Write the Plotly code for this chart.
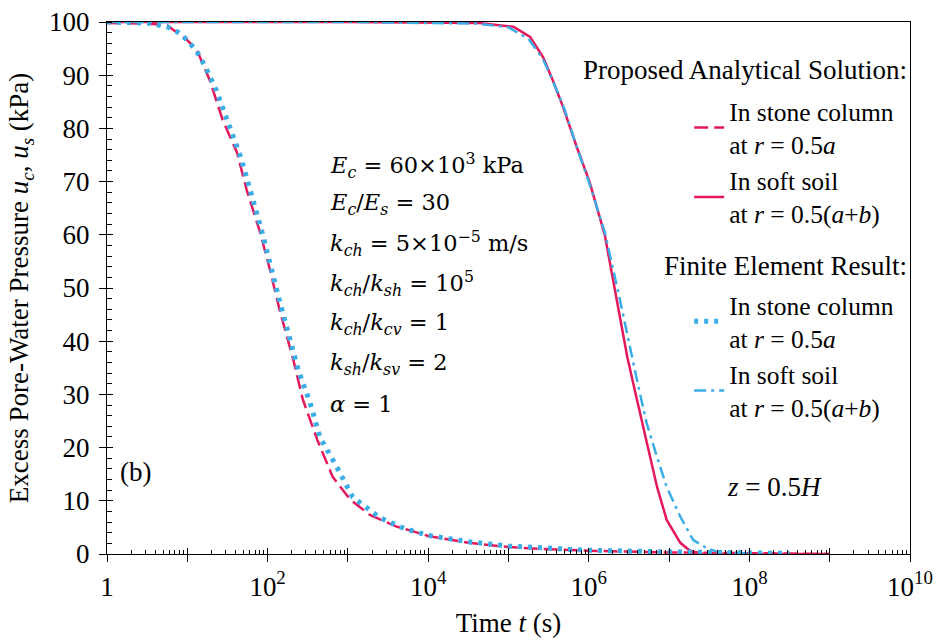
import plotly.graph_objects as go

# ---------------- data ----------------
# Proposed analytical solution, in stone column at r = 0.5a (dashed)
t_ana_col = [1, 3.2, 5.6, 10, 13.2, 19.1, 27.5, 41.7, 55, 81.3, 107, 141, 209, 275,
             417, 646, 1072, 1905, 3981, 1e4, 3.16e4, 1e5, 3.16e5, 1e6, 1e7, 1e8, 1e9]
u_ana_col = [99.8, 99.7, 99.4, 96.6, 94.7, 89.0, 81.6, 75.4, 68.4, 60.3, 53.4, 45.9, 36.5, 29.0,
             21.4, 14.5, 10.2, 7.3, 5.2, 3.4, 2.1, 1.3, 0.9, 0.6, 0.3, 0.1, 0.0]

# Proposed analytical solution, in soft soil at r = 0.5(a+b) (solid)
t_ana_soil = [1, 1e3, 4.37e4, 1.15e5, 1.86e5, 2.69e5, 3.55e5, 4.79e5, 7.08e5, 1.02e6,
              1.58e6, 2.24e6, 3.02e6, 3.98e6, 5.25e6, 7.08e6, 9.33e6, 1.38e7, 1.82e7,
              2.51e7, 1e8, 1e9]
u_ana_soil = [100, 100, 99.8, 99.1, 97.2, 93.4, 89.1, 84.0, 76.5, 70.0,
              60.0, 47.7, 37.0, 29.0, 20.9, 12.6, 6.4, 2.1, 0.6,
              0.1, 0.0, 0.0]

# Finite element result, in stone column at r = 0.5a (dotted)
t_fe_col = [1, 3.2, 5.6, 7.6, 10, 13.2, 17, 22.9, 28.8, 36.3, 45.7, 55, 66.1, 87.1, 132,
            174, 240, 339, 447, 724, 1148, 2512, 5012, 1e4, 3.16e4, 1e5, 3.16e5, 1e6,
            1e7, 1e8, 3.16e8]
u_fe_col = [100, 99.8, 99.1, 98.1, 96.6, 94.4, 91.4, 87.2, 83.1, 78.9, 74.8, 70.7, 66.4, 60.0, 49.2,
            42.7, 34.6, 28.4, 22.0, 16.4, 10.7, 6.8, 4.8, 3.5, 2.3, 1.5, 1.0, 0.7,
            0.4, 0.2, 0.1]

# Finite element result, in soft soil at r = 0.5(a+b) (dash-dot)
t_fe_soil = [1, 1e3, 3.98e4, 1e5, 1.78e5, 2.69e5, 3.55e5, 5.01e5, 7.08e5, 1e6,
             1.58e6, 2.45e6, 3.98e6, 5.25e6, 7.08e6, 9.33e6, 1.38e7, 2e7, 2.95e7,
             3.98e7, 1e8]
u_fe_soil = [100, 100, 99.7, 99.0, 96.8, 93.0, 89.0, 83.5, 76.5, 70.0,
             60.5, 47.7, 32.7, 24.6, 18.2, 12.6, 7.0, 2.6, 1.1,
             0.4, 0.1]

x_major = [1, 10, 1e2, 1e3, 1e4, 1e5, 1e6, 1e7, 1e8, 1e9, 1e10]
x_labels = ["1", "", "10<sup>2</sup>", "", "10<sup>4</sup>", "", "10<sup>6</sup>", "",
            "10<sup>8</sup>", "", "10<sup>10</sup>"]

RED = "#E3195C"
BLUE = "#3AADE6"
SERIF = "Liberation Serif"
MATH = "DejaVu Serif"

fig = go.Figure()

fig.add_trace(go.Scatter(x=t_ana_col, y=u_ana_col, mode="lines",
                         line=dict(color=RED, width=2.5, dash="14px,6px"),
                         name="In stone column<br>at <i>r</i> = 0.5<i>a</i>",
                         legendgroup="ana"))
fig.add_trace(go.Scatter(x=t_ana_soil, y=u_ana_soil, mode="lines",
                         line=dict(color=RED, width=2.5),
                         name="In soft soil<br>at <i>r</i> = 0.5(<i>a</i>+<i>b</i>)",
                         legendgroup="ana"))
fig.add_trace(go.Scatter(x=t_fe_col, y=u_fe_col, mode="lines",
                         line=dict(color=BLUE, width=5, dash="4px,6px"),
                         name="In stone column<br>at <i>r</i> = 0.5<i>a</i>",
                         legendgroup="fe"))
fig.add_trace(go.Scatter(x=t_fe_soil, y=u_fe_soil, mode="lines",
                         line=dict(color=BLUE, width=2.5, dash="12px,5px,3px,5px"),
                         name="In soft soil<br>at <i>r</i> = 0.5(<i>a</i>+<i>b</i>)",
                         legendgroup="fe"))
# empty helper trace so the overlay axes (inner half of major ticks) are drawn
fig.add_trace(go.Scatter(x=[], y=[], xaxis="x2", yaxis="y2", showlegend=False,
                         hoverinfo="skip"))

minor_x = [m * 10 ** k for k in range(10) for m in range(2, 10)]

axis_common = dict(showgrid=False, zeroline=False, linecolor="black", linewidth=1.3,
                   tickcolor="black", tickwidth=1.3, automargin=False)

fig.update_layout(
    width=937, height=641,
    margin=dict(l=107, r=27, t=22, b=87),
    plot_bgcolor="white", paper_bgcolor="white",
    font=dict(family=SERIF, size=27, color="black"),
    xaxis=dict(type="log", range=[0, 10], tickmode="array", tickvals=x_major,
               ticktext=x_labels, ticks="outside", ticklen=7, mirror=True,
               tickfont=dict(size=27), ticklabelstandoff=1,
               minor=dict(ticks="inside", ticklen=4, tickvals=minor_x,
                          tickcolor="black", tickwidth=1),
               title=dict(text="Time <i>t</i> (s)", font=dict(size=27), standoff=12),
               **axis_common),
    yaxis=dict(range=[0, 100], dtick=10, ticks="outside", ticklen=7, mirror=True,
               tickfont=dict(size=27), ticklabelstandoff=4,
               minor=dict(ticks="inside", ticklen=5, dtick=2,
                          tickcolor="black", tickwidth=1),
               title=dict(text="Excess Pore-Water Pressure <i>u</i><sub><i>c</i></sub>, "
                               "<i>u</i><sub><i>s</i></sub> (kPa)",
                          font=dict(size=27), standoff=12),
               **axis_common),
    xaxis2=dict(type="log", range=[0, 10], overlaying="x", anchor="y", side="bottom",
                tickmode="array", tickvals=x_major, ticks="inside", ticklen=6,
                tickcolor="black", tickwidth=1.3, showticklabels=False,
                showline=False, showgrid=False, zeroline=False, automargin=False),
    yaxis2=dict(range=[0, 100], overlaying="y", anchor="x", side="left", dtick=10,
                ticks="inside", ticklen=6, tickcolor="black", tickwidth=1.3,
                showticklabels=False, showline=False, showgrid=False, zeroline=False,
                automargin=False),
    legend=dict(x=0.725, y=0.876, xanchor="left", yanchor="top",
                bgcolor="rgba(0,0,0,0)", font=dict(family=SERIF, size=25.5),
                traceorder="grouped", tracegroupgap=55, itemwidth=30),
    showlegend=True,
)


def px_x(px):
    return (px - 107) / 803


def px_y(py):
    return (554 - py) / 532


annots = [
    ("Proposed Analytical Solution:", 909, 70, "right"),
    ("Finite Element Result:", 909, 266, "right"),
    ("<i>z</i> = 0.5<i>H</i>", 725, 487, "left"),
    ("(b)", 118, 472, "left"),
]
for txt, x, y, al in annots:
    fig.add_annotation(text=txt, x=px_x(x), y=px_y(y), xref="paper", yref="paper",
                       xanchor=al, yanchor="middle", showarrow=False,
                       font=dict(family=SERIF, size=27, color="black"))

math_lines = [
    "<i>E<sub>c</sub></i> = 60×10<sup>3</sup> kPa",
    "<i>E<sub>c</sub></i>/<i>E<sub>s</sub></i> = 30",
    "<i>k<sub>ch</sub></i> = 5×10<sup>−5</sup> m/s",
    "<i>k<sub>ch</sub></i>/<i>k<sub>sh</sub></i> = 10<sup>5</sup>",
    "<i>k<sub>ch</sub></i>/<i>k<sub>cv</sub></i> = 1",
    "<i>k<sub>sh</sub></i>/<i>k<sub>sv</sub></i> = 2",
    "<i>α</i> = 1",
]
math_y = [165, 204, 244, 284, 324, 364, 404]
for txt, y in zip(math_lines, math_y):
    fig.add_annotation(text=txt, x=px_x(328), y=px_y(y), xref="paper", yref="paper",
                       xanchor="left", yanchor="middle", showarrow=False,
                       font=dict(family=MATH, size=22.5, color="black"))

fig.write_html("out.html")
